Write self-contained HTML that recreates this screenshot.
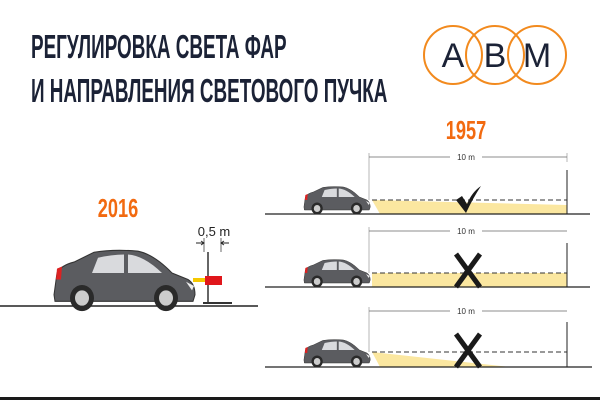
<!DOCTYPE html>
<html><head><meta charset="utf-8"><style>
body{margin:0;background:#fff;width:600px;height:400px;overflow:hidden}
</style></head><body>
<svg width="600" height="400" viewBox="0 0 600 400" xmlns="http://www.w3.org/2000/svg">
<defs>
<g id="car">
<path d="M2,42 L5,22 Q9,15 22,12 L42,3 Q62,0 86,2 Q102,5 120,22 L136,28 Q143,32 143,42 L141,48 L3,48 Z" fill="#5b5c60" stroke="#333" stroke-width="1"/>
<path d="M46,8 Q60,5 72,5 L72,22 L40,22 Z" fill="#d9dadd"/>
<path d="M76,5 Q92,6 110,22 L76,22 Z" fill="#d9dadd"/>
<path d="M5,18 L10,16 L9,28 L4,28 Z" fill="#d22"/>
<path d="M134,30 L142,34 L140,38 Z" fill="#eee"/>
<circle cx="30" cy="45" r="12" fill="#2a2a2a"/><circle cx="30" cy="45" r="7" fill="#ccc"/>
<circle cx="114" cy="45" r="12" fill="#2a2a2a"/><circle cx="114" cy="45" r="7" fill="#ccc"/>
</g>
</defs>
<g font-family="Liberation Sans, sans-serif" font-weight="bold" fill="#1b2236">
<text x="31" y="58" font-size="33" transform="translate(31 0) scale(0.572 1) translate(-31 0)">РЕГУЛИРОВКА СВЕТА ФАР</text>
<text x="31" y="102" font-size="33" transform="translate(31 0) scale(0.572 1) translate(-31 0)">И НАПРАВЛЕНИЯ СВЕТОВОГО ПУЧКА</text>
</g>
<g fill="none" stroke="#f28a1e" stroke-width="2">
<circle cx="453" cy="55" r="29"/><circle cx="495" cy="55" r="29"/><circle cx="537" cy="55" r="29"/>
</g>
<g font-family="Liberation Sans, sans-serif" font-size="34" fill="#1b2236" text-anchor="middle">
<text x="453" y="67">A</text><text x="495" y="67">B</text><text x="537" y="67">M</text>
</g>
<g font-family="Liberation Sans, sans-serif" font-weight="bold" fill="#f26a10" font-size="26">
<text x="466" y="139" text-anchor="middle" transform="translate(466 0) scale(0.7 1) translate(-466 0)">1957</text>
<text x="118" y="217" text-anchor="middle" transform="translate(118 0) scale(0.7 1) translate(-118 0)">2016</text>
</g>
<!-- left scene -->
<line x1="0" y1="306" x2="258" y2="306" stroke="#222" stroke-width="1.5"/>
<use href="#car" transform="translate(52 249) scale(1 1.09)"/>
<rect x="193" y="278" width="13" height="4" fill="#f5c800"/>
<line x1="208" y1="252" x2="208" y2="303" stroke="#666" stroke-width="2"/>
<line x1="203" y1="303" x2="232" y2="303" stroke="#333" stroke-width="2"/>
<rect x="205" y="276" width="17" height="9" fill="#e0161b"/>
<line x1="204" y1="238" x2="204" y2="252" stroke="#444" stroke-width="0.8"/>
<line x1="221" y1="238" x2="221" y2="252" stroke="#444" stroke-width="0.8"/>
<path d="M196,243 L204,243 M201,241 L204,243 L201,245 M229,243 L221,243 M224,241 L221,243 L224,245" stroke="#222" fill="none" stroke-width="0.9"/>
<text x="214" y="236" font-family="Liberation Sans, sans-serif" font-size="13" text-anchor="middle" fill="#222">0,5 m</text>
<g font-family="Liberation Sans, sans-serif">
<g>
<polygon points="372,200 567,205 567,214 380,214" fill="#fbe7a0"/>
<line x1="372" y1="200" x2="567" y2="200" stroke="#333" stroke-dasharray="5,3"/>
<line x1="265" y1="214" x2="590" y2="214" stroke="#222" stroke-width="1.3"/>
<line x1="567" y1="170" x2="567" y2="214" stroke="#222"/>
<line x1="369" y1="153" x2="369" y2="200" stroke="#999" stroke-width="0.7"/>
<line x1="567" y1="153" x2="567" y2="162" stroke="#999" stroke-width="0.7"/>
<line x1="369" y1="157" x2="450" y2="157" stroke="#666" stroke-width="0.7"/><line x1="482" y1="157" x2="567" y2="157" stroke="#666" stroke-width="0.7"/>
<text x="466" y="160" font-size="8" text-anchor="middle" fill="#333">10 m</text>
<use href="#car" transform="translate(303 186) scale(0.47 0.5)"/>
<path d="M456,200 L462,196 L467,204 Q472,192 481,186 Q473,198 466,213 Z" fill="#1a1a1a"/>
</g>
<g>
<rect x="372" y="273" width="195" height="14" fill="#fbe7a0"/>
<line x1="372" y1="273" x2="567" y2="273" stroke="#333" stroke-dasharray="5,3"/>
<line x1="265" y1="287" x2="590" y2="287" stroke="#222" stroke-width="1.3"/>
<line x1="567" y1="243" x2="567" y2="287" stroke="#222"/>
<line x1="369" y1="227" x2="369" y2="273" stroke="#999" stroke-width="0.7"/>
<line x1="369" y1="231" x2="450" y2="231" stroke="#666" stroke-width="0.7"/><line x1="482" y1="231" x2="567" y2="231" stroke="#666" stroke-width="0.7"/>
<text x="466" y="234" font-size="8" text-anchor="middle" fill="#333">10 m</text>
<use href="#car" transform="translate(303 259) scale(0.47 0.5)"/>
<path d="M456,254 L480,287 M480,254 L456,287" stroke="#1a1a1a" stroke-width="5"/>
</g>
<g>
<polygon points="372,352 510,367 380,367" fill="#fbe7a0"/>
<line x1="372" y1="352" x2="567" y2="352" stroke="#333" stroke-dasharray="5,3"/>
<line x1="265" y1="367" x2="592" y2="367" stroke="#222" stroke-width="1.3"/>
<line x1="567" y1="322" x2="567" y2="367" stroke="#222"/>
<line x1="369" y1="307" x2="369" y2="352" stroke="#999" stroke-width="0.7"/>
<line x1="369" y1="311" x2="450" y2="311" stroke="#666" stroke-width="0.7"/><line x1="482" y1="311" x2="567" y2="311" stroke="#666" stroke-width="0.7"/>
<text x="466" y="314" font-size="8" text-anchor="middle" fill="#333">10 m</text>
<use href="#car" transform="translate(303 339) scale(0.47 0.5)"/>
<path d="M456,334 L480,367 M480,334 L456,367" stroke="#1a1a1a" stroke-width="5"/>
</g>
</g>
<rect x="0" y="397" width="600" height="3" fill="#1a1a1a"/>
</svg>
</body></html>
